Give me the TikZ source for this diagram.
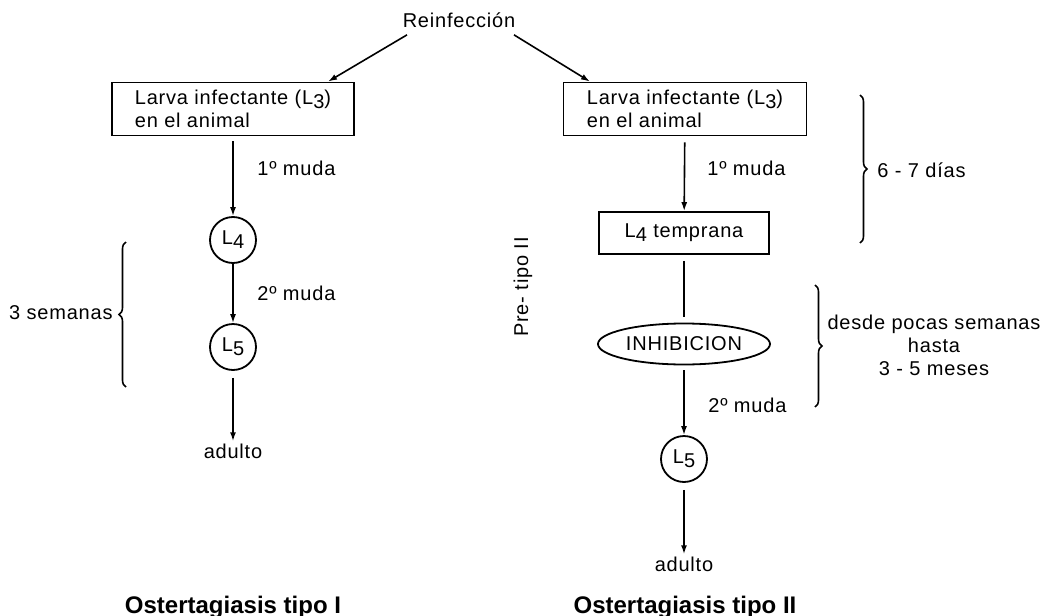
\documentclass[tikz,border=0pt]{standalone}
\usepackage{fontspec}
\setmainfont{Liberation Sans}[LetterSpace=4]
\usetikzlibrary{arrows.meta,shapes.geometric,decorations.pathreplacing}
\newcommand{\Lsub}[1]{L\raisebox{-0.4ex}{#1}}
\begin{document}
\begin{tikzpicture}[x=0.5pt,y=-0.5pt,
  every node/.style={font=\fontsize{10}{11.5}\selectfont, inner sep=1pt},
  box/.style={draw, line width=0.9pt, rectangle, inner sep=0pt},
  circ/.style={draw, circle, line width=0.9pt, minimum size=23pt, inner sep=0pt},
  ell/.style={draw, ellipse, line width=0.9pt, minimum width=86pt, minimum height=20.5pt, inner sep=0pt},
  arr/.style={-{Latex[length=4.5pt,width=3pt]}, line width=0.8pt},
  brc/.style={decorate, decoration={brace, amplitude=3.5pt}, line width=0.8pt},
  title/.style={font=\fontsize{12}{14}\selectfont\bfseries\addfontfeature{LetterSpace=0}}]
\useasboundingbox (0,0) rectangle (1046,616);

% top
\node (rein) at (459,20) {Reinfección};
\node[box, minimum width=121pt, minimum height=26.5pt, align=left] (bL) at (233,109) {Larva infectante (\Lsub{3})\\en el animal};
\node[box, minimum width=121.5pt, minimum height=26.5pt, align=left] (bR) at (685,109) {Larva infectante (\Lsub{3})\\en el animal};
\draw[arr] ([xshift=-26pt,yshift=-2.5pt]rein.south) -- ([xshift=47.5pt]bL.north);
\draw[arr] ([xshift=27.5pt,yshift=-2.5pt]rein.south) -- ([xshift=-47.5pt]bR.north);

% left column
\node[circ] (L4L) at (233,240) {\Lsub{4}};
\node[circ] (L5L) at (233,347) {\Lsub{5}};
\node (adL) at (233,451) {adulto};
\draw[arr, shorten <=2.5pt] (bL) -- (L4L);
\draw[arr] (L4L) -- (L5L);
\draw[arr, shorten <=3.5pt] (L5L) -- (adL);
\node[anchor=west] (m1L) at (255,168) {1º muda};
\node[anchor=west] (m2L) at (255,293) {2º muda};
\node[anchor=east] (sem) at (115,313) {3 semanas};
\draw[brc] (126,387) -- (126,242);

% right column
\node[box, minimum width=85pt, minimum height=21pt] (L4T) at (684,233) {\Lsub{4} temprana};
\node[ell] (INH) at (684,344) {INHIBICION};
\node[circ] (L5R) at (684,459) {\Lsub{5}};
\node (adR) at (684,564) {adulto};
\draw[arr, shorten <=3pt] (bR) -- (L4T);
\draw[line width=0.8pt, shorten <=3pt, shorten >=3pt] (L4T) -- (INH);
\draw[arr, shorten <=2.5pt] (INH) -- (L5R);
\draw[arr, shorten <=3.5pt] (L5R) -- (adR);
\node[anchor=west] (m1R) at (705,168) {1º muda};
\node[anchor=west] (m2R) at (706,405) {2º muda};
\node[rotate=90] (pre) at (523,287) {Pre- tipo II};

\draw[brc] (860,95) -- (860,243);
\node[anchor=west] (dias) at (875,170) {6 - 7 días};
\draw[brc] (815,285) -- (815,407);
\node[align=center] (desde) at (934,345) {desde pocas semanas\\hasta\\3 - 5 meses};

% titles
\node[title, anchor=base] (t1) at (233,613) {Ostertagiasis tipo I};
\node[title, anchor=base] (t2) at (685,613) {Ostertagiasis tipo II};
\end{tikzpicture}
\end{document}
